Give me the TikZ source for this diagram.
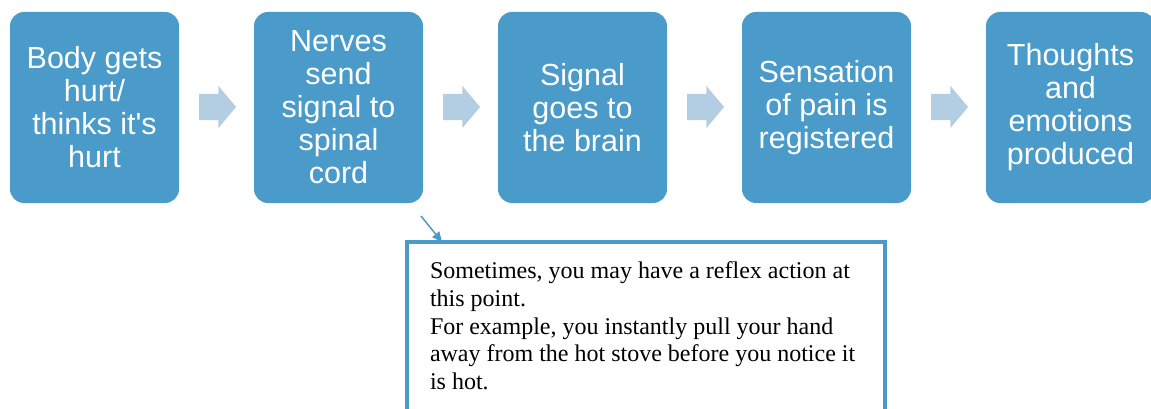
\documentclass[tikz,border=0pt]{standalone}
\usepackage{fontspec}
\setmainfont{Liberation Serif}
\newfontfamily\boxfont{Liberation Sans}
\usetikzlibrary{shapes.arrows,arrows.meta}
\definecolor{stepblue}{HTML}{4A9BCA}
\definecolor{arrowblue}{HTML}{B3CDE2}
\begin{document}
\begin{tikzpicture}[x=1pt,y=-1pt,
  stepbox/.style={fill=stepblue, rounded corners=14pt, minimum width=169pt,
    minimum height=191pt, inner sep=0pt, text=white, align=center,
    font=\boxfont\fontsize{30.5}{33}\selectfont},
  flowarrow/.style={single arrow, fill=arrowblue, draw=none, minimum height=37pt,
    text height=0pt, text depth=0pt, inner xsep=0pt, inner ysep=13pt,
    single arrow head extend=8pt, single arrow tip angle=100},
  notebox/.style={draw=stepblue, line width=4pt, fill=white, anchor=north west,
    inner xsep=23pt, inner ysep=20pt,
    font=\fontsize{24}{27.6}\selectfont},
  pointer/.style={draw=stepblue, line width=1.5pt, -{Triangle[length=10pt,width=9pt]}}]
\useasboundingbox (0,0) rectangle (1151,409);
\clip (0,0) rectangle (1151,409);

% the five steps
\node[stepbox] (hurt)     at (94.5,107.5)  {Body gets\\hurt/\\thinks it's\\hurt};
\node[stepbox] (nerves)   at (338.5,107.5) {Nerves\\send\\signal to\\spinal\\cord};
\node[stepbox] (brain)    at (582.5,107.5) {Signal\\goes to\\the brain};
\node[stepbox] (register) at (826.5,107.5) {Sensation\\of pain is\\registered};
\node[stepbox] (emotion)  at (1070.5,107.5) {Thoughts\\and\\emotions\\produced};

% block arrows between the steps
\node[flowarrow] (a1) at (212,107) {};
\node[flowarrow] (a2) at (456,107) {};
\node[flowarrow] (a3) at (700,107) {};
\node[flowarrow] (a4) at (944,107) {};

% note about the reflex action
\node[notebox] (reflex) at (405,240) {\parbox[t][175pt][t]{432pt}{\raggedright
  Sometimes, you may have a reflex action at\\
  this point.\\
  For example, you instantly pull your hand\\
  away from the hot stove before you notice it\\
  is hot.}};

\coordinate (reflexfrom) at (421,216);
\coordinate (reflexto) at ([xshift=37pt,yshift=-2pt]reflex.north west);
\draw[pointer] (reflexfrom) -- (reflexto);
\end{tikzpicture}
\end{document}
